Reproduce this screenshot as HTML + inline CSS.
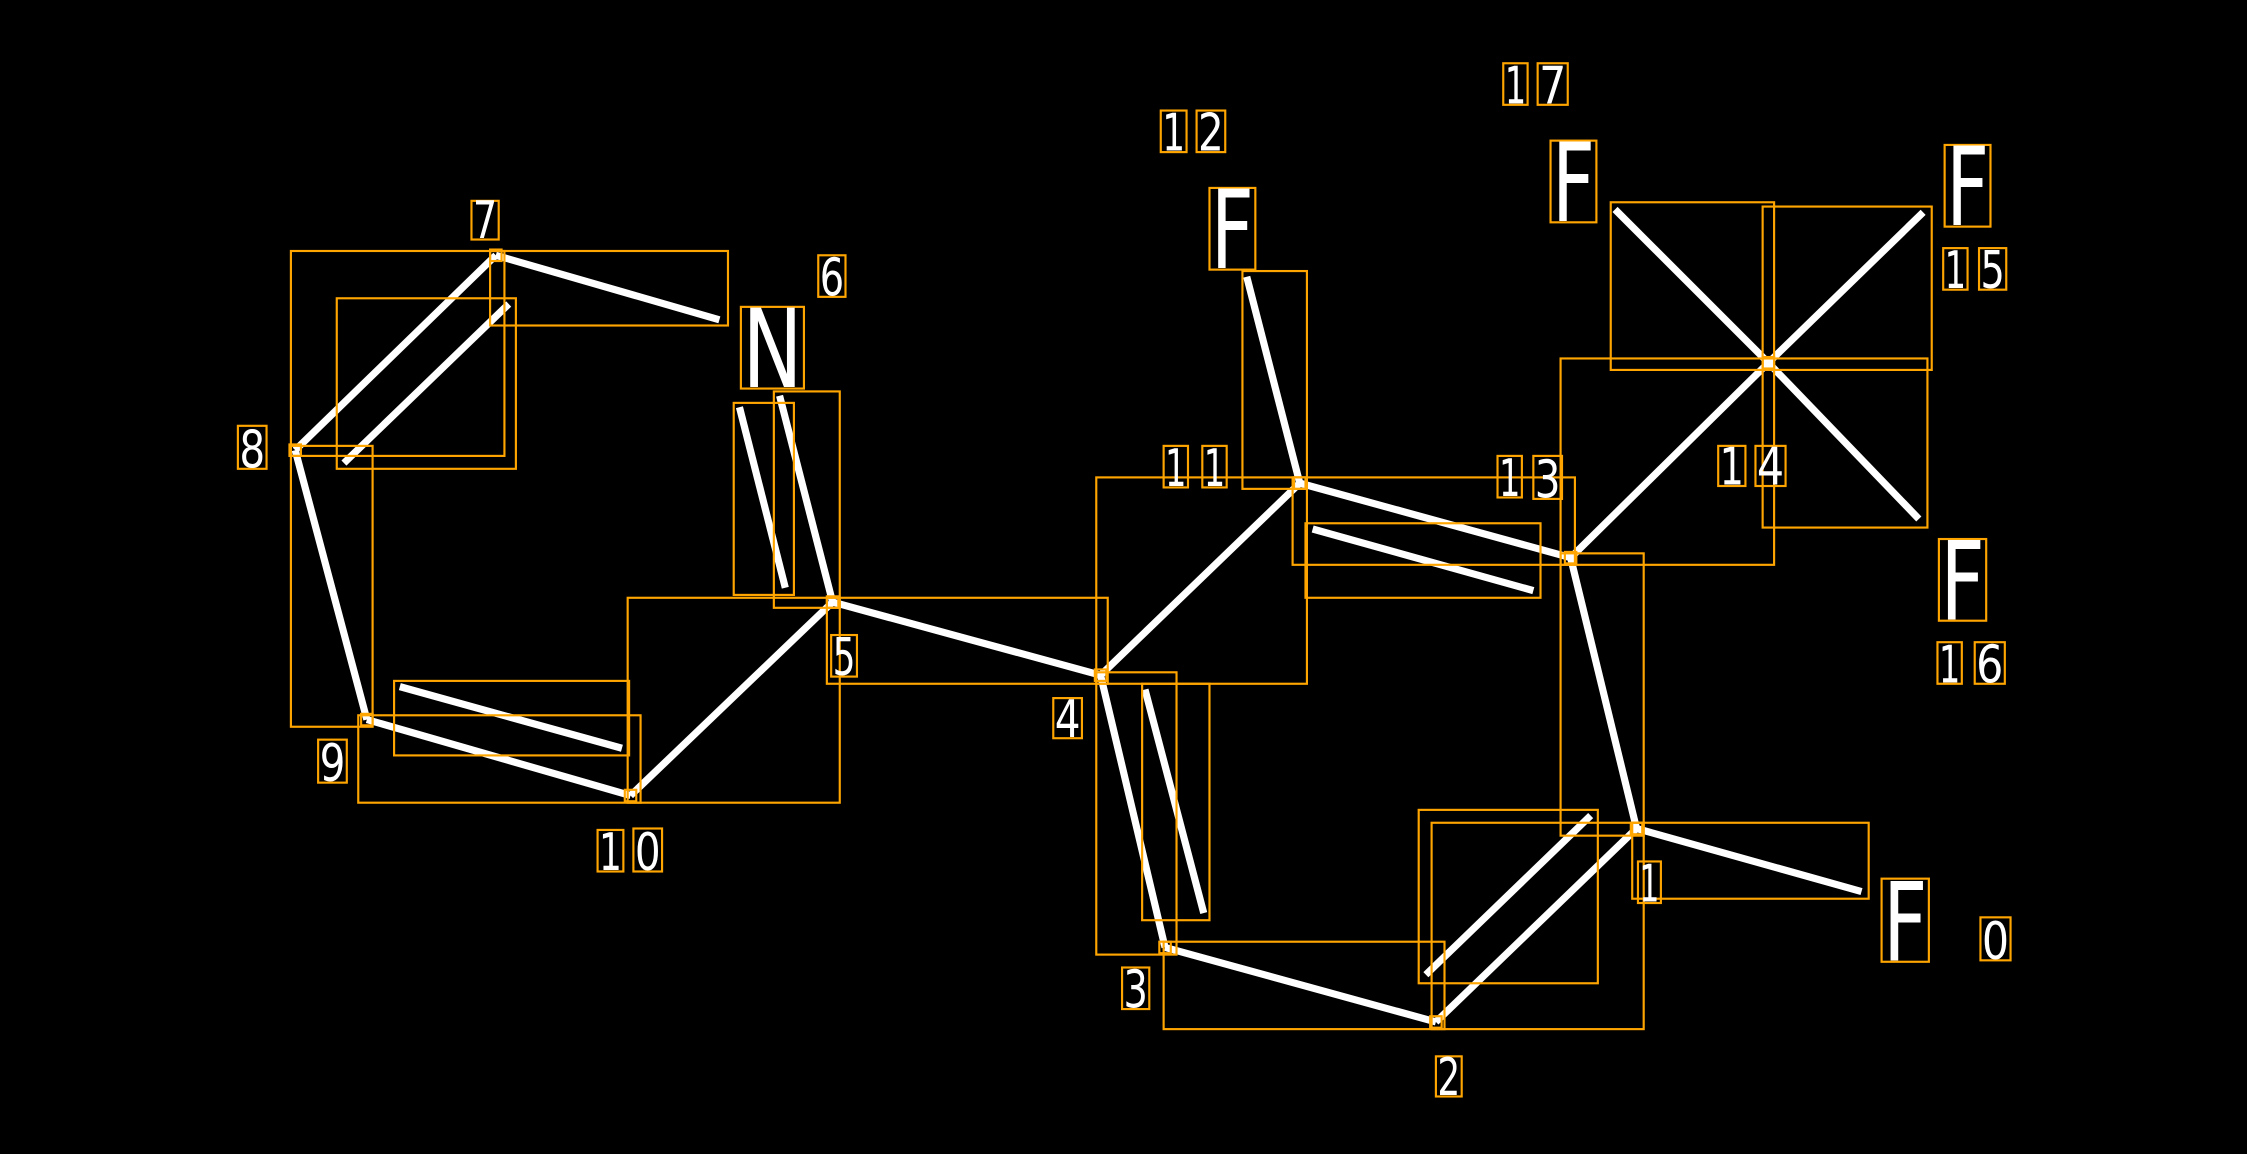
<!DOCTYPE html>
<html><head><meta charset="utf-8"><style>
html,body{margin:0;padding:0;background:#000;}
svg{display:block}
text{font-family:"DejaVu Sans","Liberation Sans",sans-serif;fill:#fff;}
</style></head><body>
<svg width="2247" height="1154" viewBox="0 0 1568 805" xmlns="http://www.w3.org/2000/svg">
<rect width="1568" height="805" fill="#000"/>
<g stroke="#fff" stroke-width="5" stroke-linecap="butt">
<line x1="1142" y1="578" x2="1299" y2="622"/>
<line x1="1142" y1="578" x2="1002" y2="713"/>
<line x1="995" y1="680" x2="1110" y2="569"/>
<line x1="1002" y1="713" x2="813" y2="661"/>
<line x1="813" y1="661" x2="768" y2="471"/>
<line x1="799" y1="481" x2="840" y2="637"/>
<line x1="768" y1="471" x2="581" y2="420"/>
<line x1="768" y1="471" x2="907" y2="337"/>
<line x1="581" y1="420" x2="544" y2="276"/>
<line x1="516" y1="284" x2="548" y2="410"/>
<line x1="581" y1="420" x2="440" y2="555"/>
<line x1="440" y1="555" x2="256" y2="502"/>
<line x1="279" y1="479" x2="434" y2="522"/>
<line x1="256" y1="502" x2="206" y2="314"/>
<line x1="206" y1="314" x2="346" y2="178"/>
<line x1="240" y1="323" x2="355" y2="212"/>
<line x1="346" y1="178" x2="502" y2="223"/>
<line x1="907" y1="337" x2="870" y2="193"/>
<line x1="907" y1="337" x2="1096" y2="389"/>
<line x1="916" y1="369" x2="1070" y2="412"/>
<line x1="1096" y1="389" x2="1142" y2="578"/>
<line x1="1096" y1="389" x2="1234" y2="253"/>
<line x1="1234" y1="253" x2="1127" y2="146"/>
<line x1="1234" y1="253" x2="1342" y2="148"/>
<line x1="1234" y1="253" x2="1339" y2="362"/>
</g>
<g fill="none" stroke="#FFA500" stroke-width="1.5">
<rect x="203" y="175" width="149" height="143"/>
<rect x="342" y="175" width="166" height="52"/>
<rect x="235" y="208" width="125" height="119"/>
<rect x="203" y="311" width="57" height="196"/>
<rect x="275" y="475" width="164" height="52"/>
<rect x="250" y="499" width="197" height="61"/>
<rect x="438" y="417" width="148" height="143"/>
<rect x="512" y="281" width="42" height="134"/>
<rect x="540" y="273" width="46" height="151"/>
<rect x="577" y="417" width="196" height="60"/>
<rect x="867" y="189" width="45" height="152"/>
<rect x="765" y="333" width="147" height="144"/>
<rect x="902" y="333" width="197" height="61"/>
<rect x="911" y="365" width="164" height="52"/>
<rect x="1089" y="250" width="149" height="144"/>
<rect x="1124" y="141" width="114" height="117"/>
<rect x="1230" y="144" width="118" height="114"/>
<rect x="1230" y="250" width="115" height="118"/>
<rect x="1089" y="386" width="58" height="197"/>
<rect x="765" y="469" width="56" height="197"/>
<rect x="797" y="477" width="47" height="165"/>
<rect x="812" y="657" width="196" height="61"/>
<rect x="999" y="574" width="148" height="144"/>
<rect x="990" y="565" width="125" height="121"/>
<rect x="1139" y="574" width="165" height="53"/>
<!-- junction squares -->
<rect x="1138" y="574" width="8" height="8"/>
<rect x="998" y="709" width="8" height="8"/>
<rect x="809" y="657" width="8" height="8"/>
<rect x="764" y="467" width="8" height="8"/>
<rect x="577" y="416" width="8" height="8"/>
<rect x="342" y="174" width="8" height="8"/>
<rect x="202" y="310" width="8" height="8"/>
<rect x="252" y="498" width="8" height="8"/>
<rect x="436" y="551" width="8" height="8"/>
<rect x="903" y="333" width="8" height="8"/>
<rect x="1092" y="385" width="8" height="8"/>
<rect x="1230" y="249" width="8" height="8"/>
<!-- label boxes -->
<rect x="329" y="140" width="19" height="27"/>
<rect x="571" y="178" width="19" height="29"/>
<rect x="166" y="297" width="20" height="30"/>
<rect x="222" y="516" width="20" height="30"/>
<rect x="417" y="579" width="18" height="29"/>
<rect x="442" y="578" width="20" height="30"/>
<rect x="580" y="443" width="18" height="29"/>
<rect x="735" y="487" width="20" height="28"/>
<rect x="517" y="214" width="44" height="57"/>
<rect x="810" y="77" width="18" height="29"/>
<rect x="835" y="77" width="20" height="29"/>
<rect x="844" y="131" width="32" height="57"/>
<rect x="1049" y="44" width="17" height="29"/>
<rect x="1073" y="44" width="21" height="29"/>
<rect x="1082" y="98" width="32" height="57"/>
<rect x="1357" y="101" width="32" height="57"/>
<rect x="1356" y="173" width="17" height="29"/>
<rect x="1381" y="173" width="19" height="29"/>
<rect x="812" y="311" width="17" height="29"/>
<rect x="839" y="311" width="17" height="29"/>
<rect x="1045" y="318" width="17" height="29"/>
<rect x="1070" y="318" width="20" height="30"/>
<rect x="1199" y="311" width="19" height="28"/>
<rect x="1225" y="311" width="21" height="28"/>
<rect x="1353" y="376" width="33" height="57"/>
<rect x="1352" y="448" width="17" height="29"/>
<rect x="1378" y="448" width="21" height="29"/>
<rect x="1143" y="601" width="16" height="29"/>
<rect x="1313" y="613" width="33" height="58"/>
<rect x="1382" y="640" width="21" height="30"/>
<rect x="1002" y="737" width="18" height="28"/>
<rect x="783" y="675" width="19" height="29"/>
</g>
<g font-size="36">
<text x="330" y="166" textLength="17" lengthAdjust="spacingAndGlyphs">7</text>
<text x="572" y="206" textLength="17" lengthAdjust="spacingAndGlyphs">6</text>
<text x="167" y="326" textLength="18" lengthAdjust="spacingAndGlyphs">8</text>
<text x="223" y="545" textLength="18" lengthAdjust="spacingAndGlyphs">9</text>
<text x="418" y="607" textLength="16" lengthAdjust="spacingAndGlyphs">1</text>
<text x="443" y="607" textLength="18" lengthAdjust="spacingAndGlyphs">0</text>
<text x="581" y="471" textLength="16" lengthAdjust="spacingAndGlyphs">5</text>
<text x="736" y="514" textLength="18" lengthAdjust="spacingAndGlyphs">4</text>
<text x="811" y="105" textLength="16" lengthAdjust="spacingAndGlyphs">1</text>
<text x="836" y="105" textLength="18" lengthAdjust="spacingAndGlyphs">2</text>
<text x="1050" y="72" textLength="15" lengthAdjust="spacingAndGlyphs">1</text>
<text x="1074" y="72" textLength="19" lengthAdjust="spacingAndGlyphs">7</text>
<text x="1357" y="201" textLength="15" lengthAdjust="spacingAndGlyphs">1</text>
<text x="1382" y="201" textLength="17" lengthAdjust="spacingAndGlyphs">5</text>
<text x="813" y="339" textLength="15" lengthAdjust="spacingAndGlyphs">1</text>
<text x="840" y="339" textLength="15" lengthAdjust="spacingAndGlyphs">1</text>
<text x="1046" y="346" textLength="15" lengthAdjust="spacingAndGlyphs">1</text>
<text x="1071" y="347" textLength="18" lengthAdjust="spacingAndGlyphs">3</text>
<text x="1200" y="338" textLength="17" lengthAdjust="spacingAndGlyphs">1</text>
<text x="1226" y="338" textLength="19" lengthAdjust="spacingAndGlyphs">4</text>
<text x="1353" y="476" textLength="15" lengthAdjust="spacingAndGlyphs">1</text>
<text x="1379" y="476" textLength="19" lengthAdjust="spacingAndGlyphs">6</text>
<text x="1144" y="629" textLength="14" lengthAdjust="spacingAndGlyphs">1</text>
<text x="1383" y="669" textLength="19" lengthAdjust="spacingAndGlyphs">0</text>
<text x="1003" y="764" textLength="16" lengthAdjust="spacingAndGlyphs">2</text>
<text x="784" y="703" textLength="17" lengthAdjust="spacingAndGlyphs">3</text>
</g>
<g font-size="76">
<text x="518" y="270" textLength="42" lengthAdjust="spacingAndGlyphs">N</text>
<text x="845" y="187" textLength="30" lengthAdjust="spacingAndGlyphs">F</text>
<text x="1083" y="154" textLength="30" lengthAdjust="spacingAndGlyphs">F</text>
<text x="1358" y="157" textLength="30" lengthAdjust="spacingAndGlyphs">F</text>
<text x="1354" y="432" textLength="31" lengthAdjust="spacingAndGlyphs">F</text>
<text x="1314" y="670" textLength="31" lengthAdjust="spacingAndGlyphs">F</text>
</g>
</svg>
</body></html>
